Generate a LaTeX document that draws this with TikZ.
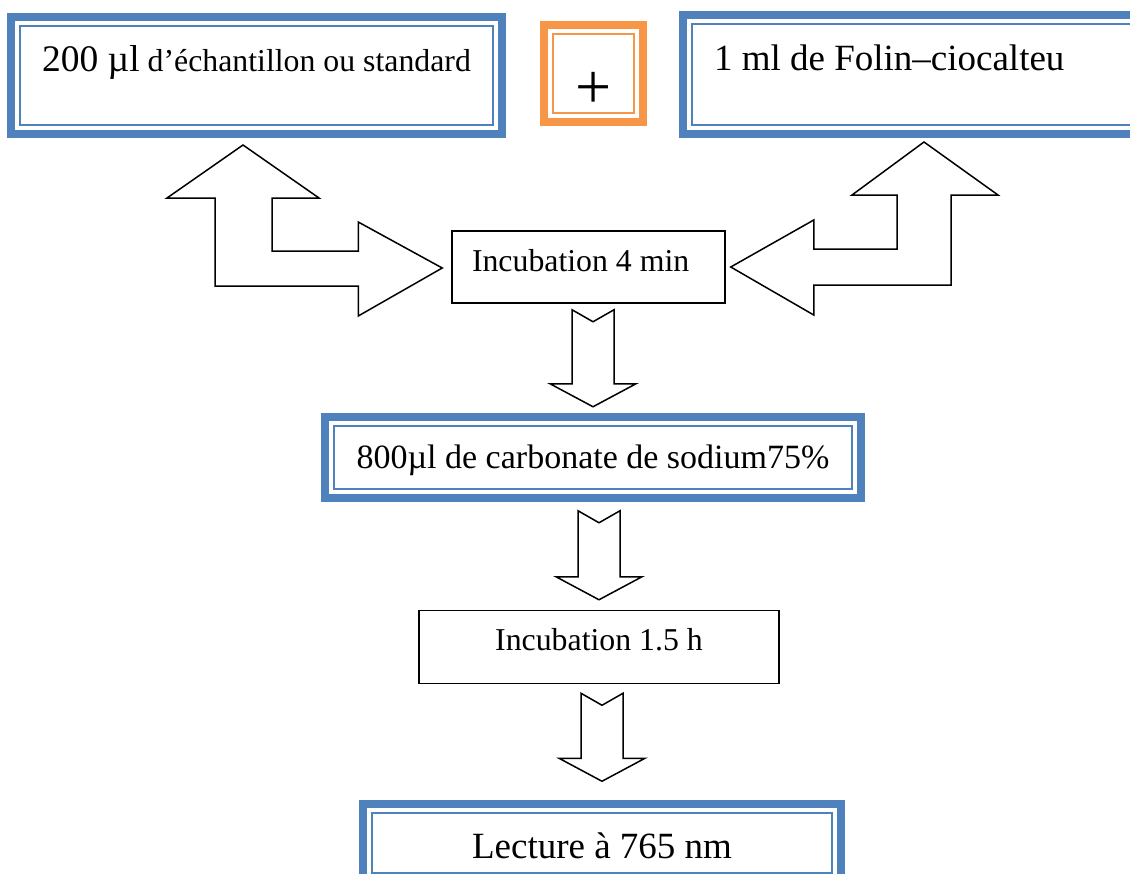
\documentclass[tikz,border=0pt]{standalone}
\usepackage{fontspec}
\setmainfont{Liberation Serif}
\usetikzlibrary{positioning,calc}
\definecolor{FrameBlue}{HTML}{4F81BD}
\definecolor{FrameOrange}{HTML}{F79646}

% notched block arrow, tail under #1, tip at #2
\newcommand{\notcharrow}[2]{%
  \draw[blockarrow] let \p1=(#1), \p2=(#2) in
    (\x2-21pt,\y1) -- (\x2,\y1-12pt) -- (\x2+21pt,\y1) -- (\x2+21pt,\y2+23pt)
    -- (\x2+43pt,\y2+23pt) -- (\x2,\y2) -- (\x2-43pt,\y2+23pt) -- (\x2-21pt,\y2+23pt) -- cycle;}

\begin{document}
\begin{tikzpicture}[
  x=1pt, y=-1pt,
  blueframe/.style={draw=FrameBlue,line width=2pt,inner sep=0pt,align=center,
    append after command={\pgfextra{\draw[FrameBlue,line width=8pt]
      ([xshift=-8pt,yshift=8pt]\tikzlastnode.north west) rectangle
      ([xshift=8pt,yshift=-8pt]\tikzlastnode.south east);}}},
  orangeframe/.style={draw=FrameOrange,line width=2pt,inner sep=0pt,align=center,
    append after command={\pgfextra{\draw[FrameOrange,line width=8pt]
      ([xshift=-8pt,yshift=8pt]\tikzlastnode.north west) rectangle
      ([xshift=8pt,yshift=-8pt]\tikzlastnode.south east);}}},
  plainbox/.style={draw,line width=1.5pt,inner sep=0pt,align=center},
  blockarrow/.style={draw,fill=white,line width=1.5pt}
]
  \useasboundingbox (0,0) rectangle (1130,873);

  % reagents
  \node[blueframe, minimum width=473pt, text height=45pt, text depth=54pt,
    font=\fontsize{31.8pt}{36pt}\selectfont] (samp) at (256.5,75.5)
    {{\fontsize{37.5pt}{40pt}\selectfont 200 µl} d’échantillon ou standard};
  \node[orangeframe, minimum width=81pt, text height=74pt, text depth=5pt,
    font=\fontsize{64pt}{66pt}\selectfont] (plus) at (593.5,73.5) {+};
  \node[blueframe, inner xsep=22pt, text height=46pt, text depth=55pt,
    font=\fontsize{37pt}{40pt}\selectfont] (folin) at (916,74.5)
    {\makebox[404pt][l]{1 ml de Folin–ciocalteu}};

  % steps
  \node[plainbox, inner xsep=20pt, text height=40pt, text depth=32pt,
    font=\fontsize{31.8pt}{36pt}\selectfont] (inc1) at (588.5,267)
    {\makebox[233pt][l]{Incubation 4 min}};
  \node[blueframe, below=121pt of inc1, xshift=4.5pt, minimum width=518pt,
    text height=43pt, text depth=20pt, font=\fontsize{34pt}{38pt}\selectfont] (carb)
    {800µl de carbonate de sodium75\%};
  \node[plainbox, below=120pt of carb, xshift=6pt, minimum width=360pt,
    text height=40pt, text depth=33pt, font=\fontsize{31.8pt}{36pt}\selectfont] (inc2)
    {Incubation 1.5 h};
  \node[blueframe, below=128pt of inc2, xshift=3pt, minimum width=460pt,
    text height=45pt, text depth=15pt, font=\fontsize{37pt}{40pt}\selectfont] (lect)
    {Lecture à 765 nm};

  % bent arrows into the first incubation
  \draw[blockarrow] let \p1=([xshift=-13.5pt,yshift=-19pt]samp.south),
      \p2=([xshift=-9pt,yshift=-1pt]inc1.west) in
    (\p1) -- (\x1+76pt,\y1-53pt) -- (\x1+29pt,\y1-53pt) -- (\x1+29pt,\y2+17pt)
    -- (\x2-84pt,\y2+17pt) -- (\x2-84pt,\y2+46pt) -- (\p2) -- (\x2-84pt,\y2-48pt)
    -- (\x2-84pt,\y2-18pt) -- (\x1-28pt,\y2-18pt) -- (\x1-28pt,\y1-53pt)
    -- (\x1-76pt,\y1-53pt) -- cycle;
  \draw[blockarrow] let \p1=([xshift=8pt,yshift=-16pt]folin.south),
      \p2=([xshift=5pt]inc1.east) in
    (\p1) -- (\x1+74pt,\y1-53pt) -- (\x1+27pt,\y1-53pt) -- (\x1+27pt,\y2-18pt)
    -- (\x2+83pt,\y2-18pt) -- (\x2+83pt,\y2-48pt) -- (\p2) -- (\x2+83pt,\y2+47pt)
    -- (\x2+83pt,\y2+18pt) -- (\x1-27pt,\y2+18pt) -- (\x1-27pt,\y1-53pt)
    -- (\x1-72pt,\y1-53pt) -- cycle;

  % down the chain
  \notcharrow{[yshift=-6pt]inc1.south}{[yshift=18pt]carb.north}
  \notcharrow{[yshift=-21pt]carb.south}{[yshift=10pt]inc2.north}
  \notcharrow{[yshift=-9pt]inc2.south}{[yshift=31pt]lect.north}
\end{tikzpicture}
\end{document}
